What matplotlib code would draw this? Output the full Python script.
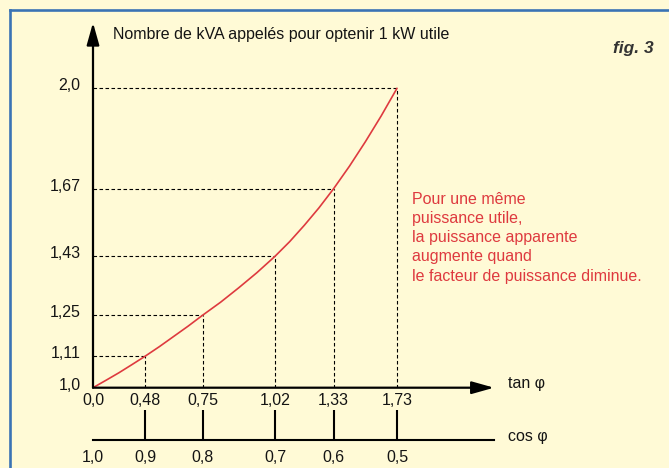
import numpy as np
import matplotlib
matplotlib.use("Agg")
import matplotlib.pyplot as plt
from matplotlib.lines import Line2D
from matplotlib.transforms import ScaledTranslation

# ---------------- data ----------------
tan_ticks = [0.0, 0.48, 0.75, 1.02, 1.33, 1.73]
tan_labels = ["0,0", "0,48", "0,75", "1,02", "1,33", "1,73"]
cos_labels = ["1,0", "0,9", "0,8", "0,7", "0,6", "0,5"]
kva_ticks = [1.0, 1.11, 1.25, 1.43, 1.67, 2.0]
kva_labels = ["1,0", "1,11", "1,25", "1,43", "1,67", "2,0"]

# curve
curve_tan = [0.0, 0.12, 0.24, 0.36, 0.48, 0.5475, 0.615, 0.6825, 0.75,
             0.8175, 0.885, 0.9525, 1.02, 1.0975, 1.175, 1.2525, 1.33,
             1.43, 1.53, 1.63, 1.73]
curve_kva = [1.0, 1.026, 1.0525, 1.081, 1.11, 1.143, 1.178, 1.213, 1.25,
             1.290, 1.334, 1.380, 1.43, 1.482, 1.540, 1.602, 1.67,
             1.744, 1.824, 1.909, 2.0]

annotation = ["Pour une même", "puissance utile,", "la puissance apparente",
              "augmente quand", "le facteur de puissance diminue."]

# ---------------- layout (pixels of the 669x468 picture) ----------------
W, H = 669, 468
X0, Y0 = 93.0, 387.7          # origin
XEND, YTOP = 494.0, 22.7      # arrow tips
COSY = 440.0
x_knot_px = [0.0, 52.0, 109.5, 182.0, 240.6, 304.0]
y_knot_px = [0.0, 31.4, 72.4, 131.4, 199.0, 299.4]

BG = "#FFFAD6"
RED = "#DE3A3F"
INK = "#141414"
FONT = "Liberation Sans"
FS = 11.5


def make_map(knots, px):
    knots = np.asarray(knots, float)
    px = np.asarray(px, float)
    s_lo = (px[1] - px[0]) / (knots[1] - knots[0])
    s_hi = (px[-1] - px[-2]) / (knots[-1] - knots[-2])

    def fwd(v):
        v = np.asarray(v, float)
        out = np.interp(v, knots, px)
        out = np.where(v > knots[-1], px[-1] + (v - knots[-1]) * s_hi, out)
        out = np.where(v < knots[0], px[0] + (v - knots[0]) * s_lo, out)
        return out

    def inv(p):
        p = np.asarray(p, float)
        out = np.interp(p, px, knots)
        out = np.where(p > px[-1], knots[-1] + (p - px[-1]) / s_hi, out)
        out = np.where(p < px[0], knots[0] + (p - px[0]) / s_lo, out)
        return out
    return fwd, inv


xf, xi = make_map(tan_ticks, x_knot_px)
yf, yi = make_map(kva_ticks, y_knot_px)

plt.rcParams["font.family"] = [FONT, "DejaVu Sans"]
fig = plt.figure(figsize=(W / 100, H / 100), dpi=100, facecolor=BG)

# frame border (top and left)
fig.add_artist(Line2D([10 / W, 10 / W], [0, 1 - 9.5 / H], color="#3A73B4", lw=1.9))
fig.add_artist(Line2D([10 / W, 1], [1 - 9.5 / H, 1 - 9.5 / H], color="#3A73B4", lw=1.9))

# main axes
ax = fig.add_axes([X0 / W, (H - Y0) / H, (XEND - X0) / W, (Y0 - YTOP) / H])
ax.set_facecolor("none")
ax.set_xscale("function", functions=(xf, xi))
ax.set_yscale("function", functions=(yf, yi))
ax.set_xlim(0.0, float(xi(XEND - X0)))
ax.set_ylim(1.0, float(yi(Y0 - YTOP)))
for s in ax.spines.values():
    s.set_visible(False)

# axes with arrows
arrow = dict(arrowstyle="-|>,head_length=1.35,head_width=0.38", lw=1.6,
             color="black", shrinkA=0, shrinkB=0)
ax.annotate("", xy=(1, 0), xytext=(0, 0), xycoords="axes fraction",
            textcoords="axes fraction", arrowprops=arrow)
ax.annotate("", xy=(0, 1), xytext=(0, 0), xycoords="axes fraction",
            textcoords="axes fraction", arrowprops=arrow)

# dashed guides
for t, k in zip(tan_ticks[1:], kva_ticks[1:]):
    ax.plot([0, t], [k, k], color="black", lw=0.8, ls=(0, (3.2, 2.2)))
    ax.plot([t, t], [1.0, k], color="black", lw=0.8, ls=(0, (3.2, 2.2)))

# curve
ax.plot(curve_tan, curve_kva, color=RED, lw=1.2, solid_capstyle="round")

ax.set_xticks(tan_ticks)
ax.set_xticklabels(tan_labels)
ax.set_yticks(kva_ticks)
ax.set_yticklabels(kva_labels)
ax.minorticks_off()
ax.tick_params(axis="x", length=0, pad=4, labelsize=FS, labelcolor=INK)
ax.tick_params(axis="y", length=0, pad=9, labelsize=FS, labelcolor=INK)
for lab in ax.get_yticklabels():
    lab.set_transform(lab.get_transform() + ScaledTranslation(0, 4 / 100, fig.dpi_scale_trans))

# cos axis
ax2 = fig.add_axes([X0 / W, (H - COSY) / H, (XEND - X0) / W, 30 / H])
ax2.set_facecolor("none")
ax2.set_xscale("function", functions=(xf, xi))
ax2.set_xlim(ax.get_xlim())
for name, s in ax2.spines.items():
    s.set_visible(name == "bottom")
ax2.spines["bottom"].set_linewidth(1.5)
ax2.set_yticks([])
ax2.set_xticks(tan_ticks)
ax2.set_xticklabels(cos_labels)
ax2.minorticks_off()
ax2.tick_params(axis="x", direction="in", length=30 * 0.72, width=1.5, pad=7,
                labelsize=FS, labelcolor=INK)
ax2.xaxis.get_major_ticks()[0].tick1line.set_visible(False)

# texts
fig.text(112.5 / W, 1 - 34.5 / H, "Nombre de kVA appelés pour optenir 1 kW utile",
         fontsize=FS, color=INK, va="center", ha="left")
fig.text(508 / W, 1 - 383.5 / H, "tan φ", fontsize=FS, color=INK, va="center", ha="left")
fig.text(508 / W, 1 - 437 / H, "cos φ", fontsize=FS, color=INK, va="center", ha="left")
fig.text(654 / W, 1 - 48 / H, "fig. 3", fontsize=12.5, color="#333333",
         fontweight="bold", fontstyle="italic", va="center", ha="right")
for i, line in enumerate(annotation):
    fig.text(412.5 / W, 1 - (199.3 + 19.2 * i) / H, line, fontsize=FS,
             color=RED, va="center", ha="left")

fig.savefig("out.png", dpi=100, facecolor=BG)
